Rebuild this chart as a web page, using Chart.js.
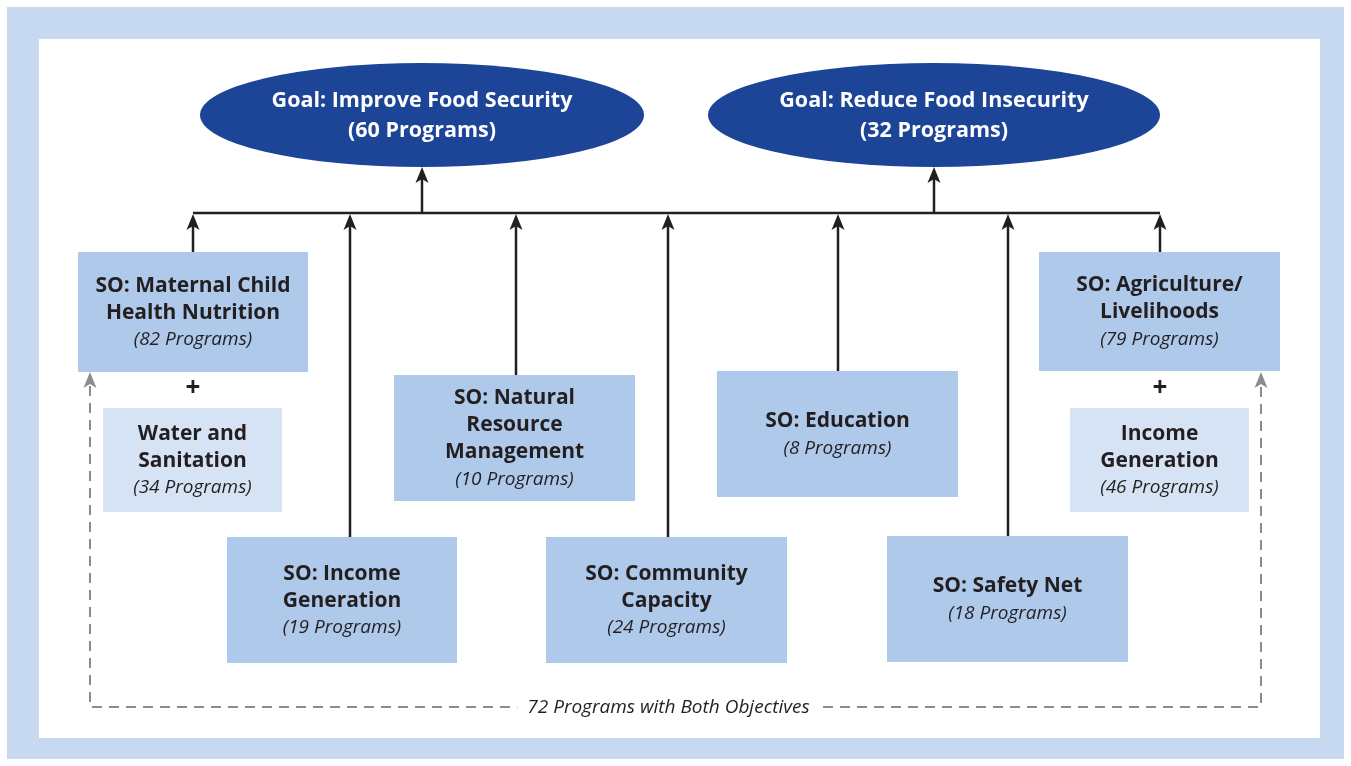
<!DOCTYPE html>
<html>
<head>
<meta charset="utf-8">
<script src="https://cdn.jsdelivr.net/npm/chart.js@4/dist/chart.umd.min.js"></script>
<style>
  body { margin: 0; background: #ffffff; }
  #wrap { width: 1351px; height: 766px; }
</style>
</head>
<body>
<div id="wrap"><canvas id="orgChart" width="1351" height="766"></canvas></div>
<script>
// data
const goalNames = ["Goal: Improve Food Security", "Goal: Reduce Food Insecurity"];
const goalCounts = [60, 32];
const soNames = [
    ["SO: Maternal Child", "Health Nutrition"],
    ["SO: Income", "Generation"],
    ["SO: Natural", "Resource", "Management"],
    ["SO: Community", "Capacity"],
    ["SO: Education"],
    ["SO: Safety Net"],
    ["SO: Agriculture/", "Livelihoods"]
];
const soCounts = [82, 19, 10, 24, 8, 18, 79];
const addonNames = [["Water and", "Sanitation"], ["Income", "Generation"]];
const addonCounts = [34, 46];
const bothCount = 72;

// layout, in scale units (x: 0-1351, y: 0-766 top down)
const goalShapes = [[422, 115, 222, 52], [934, 115, 226, 52]];
const soBoxes = [
    [78, 252, 308, 372],
    [227, 537, 457, 663],
    [394, 375, 635, 501],
    [546, 537, 787, 663],
    [717, 371, 958, 497],
    [887, 536, 1128, 662],
    [1039, 252, 1280, 371]
];
const soStemX = [193, 350, 516, 668, 838, 1008, 1160];
const addonBoxes = [[103, 408, 282, 512], [1070, 408, 1249, 512]];
const plusX = [193, 1160];
const busY = 213;
const bothLoop = { left: 90, right: 1261, top: 372, bottom: 707 };

const FONT = "'Open Sans', Lato, sans-serif";
const INK = "#231f20";

function arrowUp(ctx, x, y, color) {
    ctx.fillStyle = color;
    ctx.beginPath();
    ctx.moveTo(x, y);
    ctx.lineTo(x - 6.5, y + 16);
    ctx.lineTo(x, y + 12);
    ctx.lineTo(x + 6.5, y + 16);
    ctx.closePath();
    ctx.fill();
}

function textBlock(ctx, lines, cx, cy, gap, color) {
    const top = cy - gap * (lines.length - 1) / 2;
    ctx.fillStyle = color;
    ctx.textAlign = "center";
    ctx.textBaseline = "middle";
    lines.forEach(function (l, i) {
        ctx.font = l.font;
        ctx.fillText(l.text, cx, top + i * gap);
    });
}

function boxLines(names, count) {
    const out = names.map(function (t) { return { text: t, font: "bold 21px " + FONT }; });
    out.push({ text: "(" + count + " Programs)", font: "italic 19px " + FONT });
    return out;
}

const diagramPlugin = {
    id: "diagram",
    beforeDraw(chart) {
        const ctx = chart.ctx;
        const sx = chart.scales.x, sy = chart.scales.y;
        const X = function (v) { return sx.getPixelForValue(v); };
        const Y = function (v) { return sy.getPixelForValue(v); };
        ctx.save();

        // frame
        ctx.fillStyle = "#c6d9f0";
        ctx.fillRect(X(7), Y(7), X(1344) - X(7), Y(759) - Y(7));
        ctx.fillStyle = "#ffffff";
        ctx.fillRect(X(39), Y(39), X(1320) - X(39), Y(738) - Y(39));

        // dashed loop for programs with both objectives
        ctx.strokeStyle = "#8c8c8c";
        ctx.lineWidth = 2;
        ctx.setLineDash([10, 7]);
        ctx.beginPath();
        ctx.moveTo(X(bothLoop.left), Y(bothLoop.top + 14));
        ctx.lineTo(X(bothLoop.left), Y(bothLoop.bottom));
        ctx.lineTo(X(bothLoop.right), Y(bothLoop.bottom));
        ctx.lineTo(X(bothLoop.right), Y(bothLoop.top + 14));
        ctx.stroke();
        ctx.setLineDash([]);
        arrowUp(ctx, X(bothLoop.left), Y(bothLoop.top), "#8c8c8c");
        arrowUp(ctx, X(bothLoop.right), Y(bothLoop.top), "#8c8c8c");
        const label = bothCount + " Programs with Both Objectives";
        const labelFont = "italic 19px " + FONT;
        ctx.font = labelFont;
        const lw = ctx.measureText(label).width;
        const mid = X((bothLoop.left + bothLoop.right) / 2 - 7);
        ctx.fillStyle = "#ffffff";
        ctx.fillRect(mid - lw / 2 - 10, Y(bothLoop.bottom) - 10, lw + 20, 20);
        textBlock(ctx, [{ text: label, font: labelFont }], mid, Y(bothLoop.bottom + 1), 0, INK);

        // connector lines
        ctx.strokeStyle = INK;
        ctx.lineWidth = 2.5;
        ctx.beginPath();
        ctx.moveTo(X(soStemX[0]), Y(busY));
        ctx.lineTo(X(soStemX[soStemX.length - 1]), Y(busY));
        ctx.stroke();
        soBoxes.forEach(function (b, i) {
            ctx.beginPath();
            ctx.moveTo(X(soStemX[i]), Y(b[1]));
            ctx.lineTo(X(soStemX[i]), Y(busY + 12));
            ctx.stroke();
            arrowUp(ctx, X(soStemX[i]), Y(busY + 1), INK);
        });
        goalShapes.forEach(function (g) {
            ctx.beginPath();
            ctx.moveTo(X(g[0]), Y(busY));
            ctx.lineTo(X(g[0]), Y(g[1] + g[3] + 12));
            ctx.stroke();
            arrowUp(ctx, X(g[0]), Y(g[1] + g[3]), INK);
        });

        // goals
        goalShapes.forEach(function (g, i) {
            ctx.fillStyle = "#1c4497";
            ctx.beginPath();
            ctx.ellipse(X(g[0]), Y(g[1]), X(g[0] + g[2]) - X(g[0]), Y(g[1] + g[3]) - Y(g[1]), 0, 0, Math.PI * 2);
            ctx.fill();
            textBlock(ctx, [
                { text: goalNames[i], font: "bold 21.5px " + FONT },
                { text: "(" + goalCounts[i] + " Programs)", font: "bold 21.5px " + FONT }
            ], X(g[0]), Y(g[1] + 1), 30, "#ffffff");
        });

        // strategic objective boxes
        soBoxes.forEach(function (b, i) {
            ctx.fillStyle = "#aec9ea";
            ctx.fillRect(X(b[0]), Y(b[1]), X(b[2]) - X(b[0]), Y(b[3]) - Y(b[1]));
            textBlock(ctx, boxLines(soNames[i], soCounts[i]),
                X((b[0] + b[2]) / 2), Y((b[1] + b[3]) / 2 + 1), 27, INK);
        });

        // add-on boxes
        addonBoxes.forEach(function (b, i) {
            ctx.fillStyle = "#d6e3f4";
            ctx.fillRect(X(b[0]), Y(b[1]), X(b[2]) - X(b[0]), Y(b[3]) - Y(b[1]));
            textBlock(ctx, boxLines(addonNames[i], addonCounts[i]),
                X((b[0] + b[2]) / 2), Y((b[1] + b[3]) / 2 + 1), 27, INK);
            textBlock(ctx, [{ text: "+", font: "bold 26px " + FONT }], X(plusX[i]), Y(389), 0, INK);
        });

        ctx.restore();
    }
};

new Chart(document.getElementById("orgChart"), {
    type: "scatter",
    data: { datasets: [{ data: [], pointRadius: 0 }] },
    options: {
        responsive: false,
        animation: false,
        layout: { padding: 0 },
        plugins: { legend: { display: false }, tooltip: { enabled: false } },
        scales: {
            x: { type: "linear", min: 0, max: 1351, display: false },
            y: { type: "linear", min: 0, max: 766, reverse: true, display: false }
        }
    },
    plugins: [diagramPlugin]
});
</script>
</body>
</html>
